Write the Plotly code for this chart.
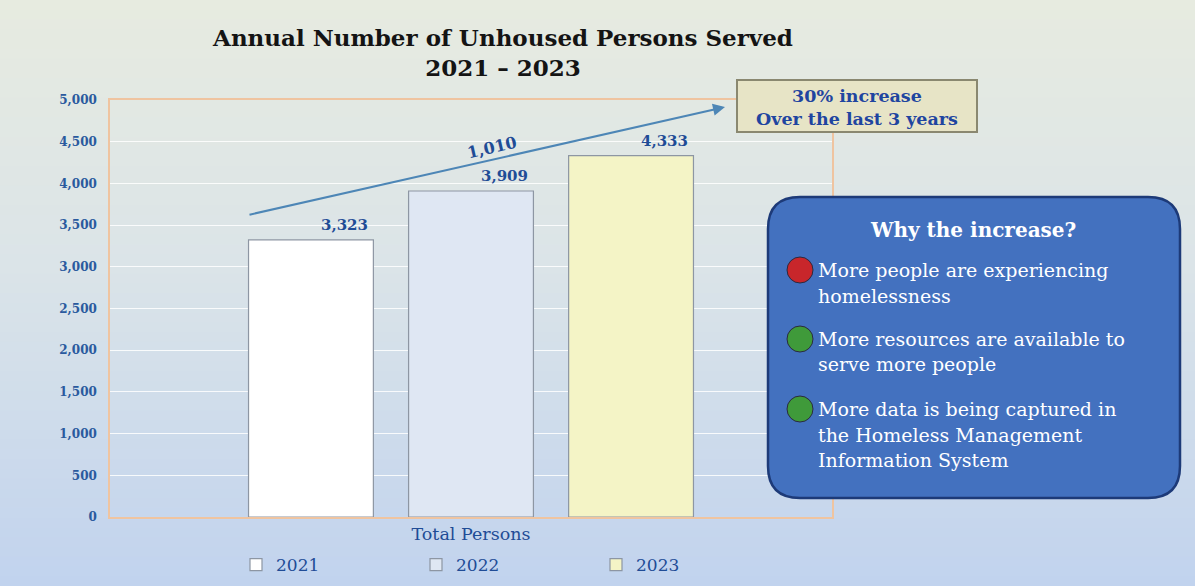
import plotly.graph_objects as go

# ---------------- data ----------------
category = ["Total Persons"]
years = ["2021", "2022", "2023"]
persons_served = [3323, 3909, 4333]
increase_label = "1,010"
title_line1 = "Annual Number of Unhoused Persons Served"
title_line2 = "2021 \u2013 2023"
callout_lines = ["30% increase", "Over the last 3 years"]
why_title = "Why the increase?"
why_reasons = [
    ["More people are experiencing", "homelessness"],
    ["More resources are available to", "serve more people"],
    ["More data is being captured in", "the Homeless Management", "Information System"],
]
reason_colors = ["#c8262b", "#3f9a3a", "#3f9a3a"]
bar_colors = ["#ffffff", "#dfe7f3", "#f4f4c6"]

# ---------------- layout geometry ----------------
W, H = 1195, 586
ML, MR, MT, MB = 110, 1195 - 832, 100, 586 - 517
PW, PH = W - ML - MR, H - MT - MB


def px(x):
    return (x - ML) / PW


def py(y):
    return (H - MB - y) / PH


SERIF = "DejaVu Serif"
BLUE_TXT = "#1f4c96"

fig = go.Figure()
for yr, val, col in zip(years, persons_served, bar_colors):
    fig.add_trace(go.Bar(
        name=yr, x=category, y=[val],
        marker=dict(color=col, line=dict(color="#8d96a3", width=1.2)),
    ))

shapes = []
# background vertical gradient
stops = [(0.0, (231, 235, 224)), (0.45, (219, 228, 232)), (1.0, (193, 211, 238))]
N = 60
for i in range(N):
    t = (i + 0.5) / N
    for (a, ca), (b, cb) in zip(stops[:-1], stops[1:]):
        if a <= t <= b:
            f = (t - a) / (b - a)
            c = tuple(int(round(ca[k] + (cb[k] - ca[k]) * f)) for k in range(3))
            break
    y0 = H * i / N
    y1 = H * (i + 1) / N + 1
    shapes.append(dict(type="rect", xref="paper", yref="paper", layer="below",
                       x0=px(0), x1=px(W), y0=py(y0), y1=py(y1),
                       fillcolor="rgb(%d,%d,%d)" % c, line=dict(width=0)))

# callout box "30% increase"
shapes.append(dict(type="rect", xref="paper", yref="paper",
                   x0=px(737), x1=px(977), y0=py(132), y1=py(80),
                   fillcolor="#e7e4c6", line=dict(color="#8a8870", width=2)))

# rounded blue box
bx0, bx1, by0, by1, r = 768, 1180, 197, 498, 32


def P(x, y):
    return f"{px(x):.5f},{py(y):.5f}"


path = (f"M {P(bx0 + r, by0)} L {P(bx1 - r, by0)} Q {P(bx1, by0)} {P(bx1, by0 + r)} "
        f"L {P(bx1, by1 - r)} Q {P(bx1, by1)} {P(bx1 - r, by1)} "
        f"L {P(bx0 + r, by1)} Q {P(bx0, by1)} {P(bx0, by1 - r)} "
        f"L {P(bx0, by0 + r)} Q {P(bx0, by0)} {P(bx0 + r, by0)} Z")
shapes.append(dict(type="path", xref="paper", yref="paper", path=path,
                   fillcolor="#4371bf", line=dict(color="#1d3a78", width=2.5)))

annotations = []
# bar value labels (offset to the right of each bar, as in the original)
slot = 160
for i, val in enumerate(persons_served):
    annotations.append(dict(x=category[0], y=val, xref="x", yref="y",
                            text=f"{val:,}", showarrow=False,
                            xanchor="center", yanchor="bottom",
                            xshift=(i - 1) * slot + 33, yshift=4,
                            font=dict(family=SERIF, size=15, color=BLUE_TXT, weight="bold")))

# trend arrow
annotations.append(dict(x=px(725), y=py(107), xref="paper", yref="paper",
                        ax=248 - 725, ay=215 - 107, axref="pixel", ayref="pixel",
                        text="", showarrow=True, arrowhead=2, arrowsize=1.2,
                        arrowwidth=2, arrowcolor="#4d86b6"))
annotations.append(dict(x=px(492), y=py(148), xref="paper", yref="paper",
                        text=increase_label, showarrow=False, textangle=-13,
                        xanchor="center", yanchor="middle",
                        font=dict(family=SERIF, size=16, color=BLUE_TXT, weight="bold")))

# callout text
annotations.append(dict(x=px(857), y=py(107), xref="paper", yref="paper",
                        text="<br>".join(callout_lines), showarrow=False,
                        xanchor="center", yanchor="middle",
                        font=dict(family=SERIF, size=17.5, color="#1f45a0", weight="bold")))

# blue box content
annotations.append(dict(x=px(973), y=py(230), xref="paper", yref="paper",
                        text=why_title, showarrow=False,
                        xanchor="center", yanchor="middle",
                        font=dict(family=SERIF, size=20, color="white", weight="bold")))
line_y = [[270, 296], [339, 364], [409, 435, 460]]
for lines, ys, col in zip(why_reasons, line_y, reason_colors):
    cx, cy, cr = 800, ys[0], 13
    shapes.append(dict(type="circle", xref="paper", yref="paper",
                       x0=px(cx - cr), x1=px(cx + cr), y0=py(cy + cr), y1=py(cy - cr),
                       fillcolor=col, line=dict(color="#2a2a40", width=1)))
    for t, yy in zip(lines, ys):
        annotations.append(dict(x=px(816), y=py(yy), xref="paper", yref="paper",
                                text=t, showarrow=False, xanchor="left", yanchor="middle",
                                font=dict(family=SERIF, size=19, color="white")))

fig.update_layout(
    width=W, height=H,
    margin=dict(l=ML, r=MR, t=MT, b=MB, autoexpand=False),
    paper_bgcolor="#d9e2e8", plot_bgcolor="rgba(0,0,0,0)",
    barmode="group", bargap=0.335, bargroupgap=0.22,
    title=dict(text=f"{title_line1}<br>{title_line2}", x=503 / W, xanchor="center",
               y=1 - 46 / H, yanchor="top",
               font=dict(family=SERIF, size=23, color="#141414", weight="bold")),
    xaxis=dict(showgrid=False, showline=True, linecolor="#efc4a0", linewidth=1.5, mirror=True,
               ticks="", tickfont=dict(family=SERIF, size=17.5, color=BLUE_TXT)),
    yaxis=dict(range=[0, 5000], dtick=500, tickformat=",", showgrid=True,
               gridcolor="rgba(255,255,255,0.85)", gridwidth=1,
               showline=True, linecolor="#efc4a0", linewidth=1.5, mirror=True,
               ticks="", ticklabelstandoff=9, zeroline=False,
               tickfont=dict(family=SERIF, size=12, color="#2a5a9e", weight="bold")),
    legend=dict(orientation="h", x=px(236), y=py(565), xanchor="left", yanchor="middle",
                entrywidth=135, entrywidthmode="pixels", bgcolor="rgba(0,0,0,0)",
                font=dict(family=SERIF, size=17, color=BLUE_TXT)),
    shapes=shapes, annotations=annotations,
)

fig.write_html("out.html", config={"displayModeBar": False},
               post_script="document.body.style.margin='0';")
